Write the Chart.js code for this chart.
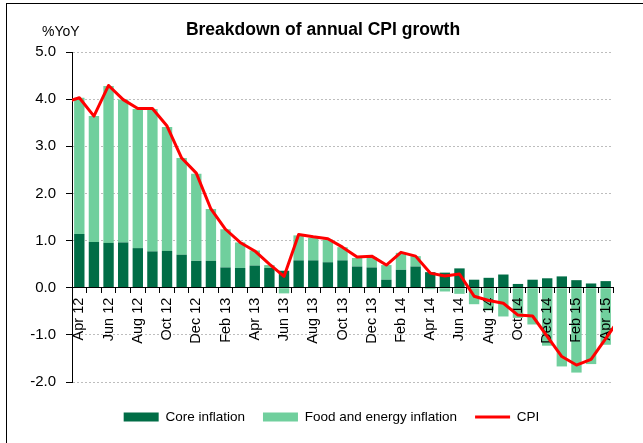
<!DOCTYPE html>
<html>
<head>
<meta charset="utf-8">
<script src="https://cdn.jsdelivr.net/npm/chart.js@4.4.1/dist/chart.umd.min.js"></script>
<style>
  html, body { margin: 0; padding: 0; background: #fff; }
  #wrap { position: relative; width: 643px; height: 443px; }
  #wrap canvas { display: block; }
  #frame { position: absolute; left: 6px; top: 3px; right: 0; bottom: 0;
           border-left: 1px solid #000; border-top: 1px solid #000; pointer-events: none; }
</style>
</head>
<body>
<div id="wrap">
  <canvas id="cpiChart" width="643" height="443"></canvas>
  <div id="frame"></div>
</div>
<script>
// monthly, Apr 12 .. Apr 15
const months = ['Apr 12','May 12','Jun 12','Jul 12','Aug 12','Sep 12','Oct 12','Nov 12','Dec 12',
  'Jan 13','Feb 13','Mar 13','Apr 13','May 13','Jun 13','Jul 13','Aug 13','Sep 13','Oct 13','Nov 13','Dec 13',
  'Jan 14','Feb 14','Mar 14','Apr 14','May 14','Jun 14','Jul 14','Aug 14','Sep 14','Oct 14','Nov 14','Dec 14',
  'Jan 15','Feb 15','Mar 15','Apr 15'];

const coreInflation = [1.14, 0.97, 0.95, 0.96, 0.84, 0.77, 0.78, 0.70, 0.57, 0.57, 0.43, 0.42,
  0.47, 0.42, 0.36, 0.58, 0.58, 0.54, 0.58, 0.45, 0.43, 0.17, 0.38, 0.45,
  0.33, 0.32, 0.41, 0.17, 0.21, 0.28, 0.08, 0.17, 0.20, 0.24, 0.16, 0.09, 0.14];

const foodEnergyInflation = [2.89, 2.67, 3.33, 3.03, 2.95, 3.02, 2.63, 2.05, 1.85, 1.10, 0.81, 0.54,
  0.32, 0.06, -0.12, 0.53, 0.48, 0.48, 0.28, 0.18, 0.22, 0.31, 0.36, 0.22,
  -0.03, -0.08, -0.13, -0.35, -0.48, -0.61, -0.64, -0.78, -1.23, -1.67, -1.80, -1.62, -1.21];

const cpi = [4.03, 3.64, 4.29, 3.99, 3.80, 3.80, 3.43, 2.75, 2.43, 1.67, 1.24, 0.96,
  0.78, 0.50, 0.24, 1.13, 1.08, 1.04, 0.86, 0.65, 0.67, 0.48, 0.75, 0.67,
  0.31, 0.25, 0.29, -0.18, -0.27, -0.33, -0.58, -0.60, -1.03, -1.46, -1.64, -1.52, -1.08];

// the CPI line runs on past both ends of the plot (clipped there)
const cpiMar12 = 3.93;
const cpiMay15 = -0.63;

const yMin = -2, yMax = 5, yStep = 1;

const darkGreen = '#006D46';
const lightGreen = '#70CF9D';
const red = '#FF0000';

Chart.defaults.font.family = '"Liberation Sans", Arial, sans-serif';
Chart.defaults.color = '#000';

const cpiPoints = [cpiMar12].concat(cpi, [cpiMay15]).map((v, i) => ({ x: i - 1, y: v }));

// line goes on top of the axis labels, title and %YoY are drawn by hand
const chartText = {
  id: 'chartText',
  afterLayout(chart) {
    // legend sits a bit right of centre in the original
    chart.legend.left += 20;
  },
  beforeDatasetDraw(chart, args) {
    if (args.index === 2) return false;
  },
  afterDraw(chart) {
    const ctx = chart.ctx;
    const a = chart.chartArea;
    ctx.save();
    ctx.beginPath();
    ctx.rect(a.left, a.top - 3, a.right - a.left, a.bottom - a.top + 6);
    ctx.clip();
    chart.getDatasetMeta(2).controller.draw();
    ctx.restore();

    ctx.save();
    ctx.fillStyle = '#000';
    ctx.textBaseline = 'alphabetic';
    ctx.textAlign = 'center';
    ctx.font = 'bold 17.5px "Liberation Sans", Arial, sans-serif';
    ctx.fillText('Breakdown of annual CPI growth', 323, 35);
    ctx.textAlign = 'left';
    ctx.font = '14px "Liberation Sans", Arial, sans-serif';
    ctx.fillText('%YoY', 42, 36);
    ctx.restore();
  }
};

const ctx = document.getElementById('cpiChart');
const cpiChart = new Chart(ctx, {
  data: {
    labels: months,
    datasets: [{
      type: 'bar',
      label: 'Core inflation',
      data: coreInflation,
      backgroundColor: darkGreen,
      borderWidth: 0,
      pointStyle: 'rect',
      stack: 'parts',
      grouped: false,
      barPercentage: 0.71,
      categoryPercentage: 1
    }, {
      type: 'bar',
      label: 'Food and energy inflation',
      data: foodEnergyInflation,
      backgroundColor: lightGreen,
      borderWidth: 0,
      pointStyle: 'rect',
      stack: 'parts',
      grouped: false,
      barPercentage: 0.71,
      categoryPercentage: 1
    }, {
      type: 'line',
      label: 'CPI',
      data: cpiPoints,
      xAxisID: 'xl',
      stack: 'cpi',
      borderColor: red,
      backgroundColor: red,
      borderWidth: 3,
      borderJoinStyle: 'round',
      pointStyle: 'line',
      pointRadius: 0,
      tension: 0,
      fill: false
    }]
  },
  options: {
    responsive: false,
    animation: false,
    layout: { padding: { left: 30, right: 30, top: 52, bottom: 9.3 } },
    scales: {
      x: {
        type: 'category',
        stacked: true,
        offset: true,
        position: { y: 0 },
        grid: { display: true, drawOnChartArea: false, drawTicks: true, tickLength: 5,
                tickColor: '#000', tickWidth: 1, offset: true, z: 1 },
        border: { display: true, color: '#000', width: 1, z: 1 },
        ticks: {
          autoSkip: false, minRotation: 90, maxRotation: 90, padding: 5, z: 1,
          color: '#000', font: { size: 14.5 },
          callback: function (v, i) { return i % 2 === 0 ? this.getLabelForValue(v) : ''; }
        }
      },
      xl: {
        type: 'linear',
        display: false,
        min: -0.5,
        max: months.length - 0.5
      },
      y: {
        position: 'left',
        stacked: true,
        min: yMin,
        max: yMax,
        afterFit: (s) => { s.width = 42; },
        ticks: { stepSize: yStep, padding: 10, color: '#000', font: { size: 15 },
                 callback: (v) => v.toFixed(1) },
        grid: { color: '#BDBDBD', lineWidth: 1, drawTicks: true, tickLength: 6,
                tickColor: '#000', tickWidth: 1 },
        border: { display: true, color: '#000', width: 1, dash: [2, 2] }
      }
    },
    plugins: {
      tooltip: { enabled: false },
      legend: {
        position: 'bottom',
        align: 'center',
        title: { display: true, text: '', font: { size: 1 }, padding: { top: 9, bottom: 0 } },
        labels: { usePointStyle: true, pointStyleWidth: 35, boxHeight: 9, padding: 18,
                  color: '#000', font: { size: 13.5 } }
      }
    }
  },
  plugins: [chartText]
});
</script>
</body>
</html>
